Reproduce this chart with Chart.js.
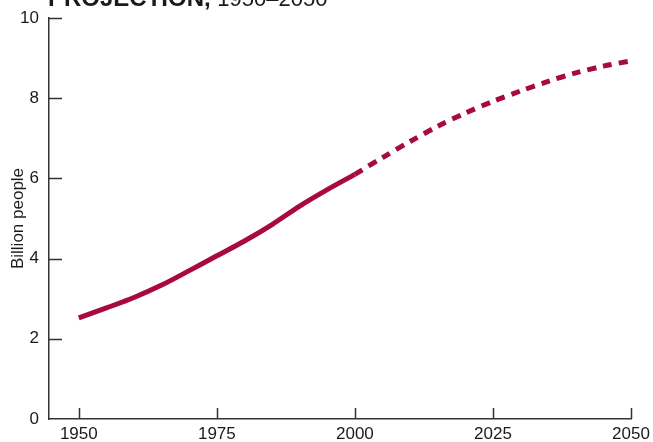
<!DOCTYPE html>
<html>
<head>
<meta charset="utf-8">
<script src="https://cdn.jsdelivr.net/npm/chart.js@4"></script>
<style>
  html, body { margin: 0; padding: 0; background: #fff; }
  #wrap { width: 653px; height: 442px; }
</style>
</head>
<body>
<div id="wrap"><canvas id="popChart" width="653" height="442"></canvas></div>
<script>
const histYears = [1950, 1955, 1960, 1965, 1970, 1975, 1980, 1985, 1990, 1995, 2000];
const histValues = [2.52, 2.77, 3.03, 3.34, 3.70, 4.07, 4.44, 4.85, 5.31, 5.72, 6.10];
const projYears = [2000, 2005, 2010, 2015, 2020, 2025, 2030, 2035, 2040, 2045, 2050];
const projValues = [6.10, 6.52, 6.92, 7.30, 7.63, 7.92, 8.18, 8.42, 8.63, 8.80, 8.93];
const xTicks = [1950, 1975, 2000, 2025, 2050];
const yTicks = [0, 2, 4, 6, 8, 10];

const lineColor = '#a80a3c';
const axisColor = '#333';
const textColor = '#1a1a1a';
const font = "'Liberation Sans', Arial, sans-serif";

const toPoints = (xs, ys) => xs.map((x, i) => ({ x: x, y: ys[i] }));

// ticks point inward, and the cut-off title at the top
const decor = {
  id: 'decor',
  afterDraw(chart) {
    const c = chart.ctx;
    const a = chart.chartArea;
    const sx = chart.scales.x, sy = chart.scales.y;
    c.save();
    c.strokeStyle = axisColor;
    c.lineWidth = 1.5;
    c.beginPath();
    yTicks.forEach(v => {
      if (v === 0) return;
      const p = Math.round(sy.getPixelForValue(v)) + 0.5;
      c.moveTo(a.left, p);
      c.lineTo(a.left + 13, p);
    });
    xTicks.forEach(v => {
      const p = Math.round(sx.getPixelForValue(v)) + 0.5;
      c.moveTo(p, a.bottom);
      c.lineTo(p, a.bottom - 11);
    });
    c.stroke();

    c.fillStyle = textColor;
    c.textBaseline = 'alphabetic';
    c.font = 'bold 24px ' + font;
    const t1 = 'PROJECTION, ';
    c.fillText(t1, 48, 6);
    const w = c.measureText(t1).width;
    c.font = '22px ' + font;
    c.fillText('1950–2050', 48 + w, 6);
    c.restore();
  }
};

new Chart(document.getElementById('popChart'), {
  type: 'line',
  data: {
    datasets: [
      {
        label: 'Historical',
        data: toPoints(histYears, histValues),
        borderColor: lineColor,
        borderWidth: 5,
        pointRadius: 0,
        tension: 0.3,
        fill: false
      },
      {
        label: 'Projection',
        data: toPoints(projYears, projValues),
        borderColor: lineColor,
        borderWidth: 5,
        borderDash: [9, 7],
        pointRadius: 0,
        tension: 0.3,
        fill: false
      }
    ]
  },
  options: {
    responsive: false,
    animation: false,
    layout: { padding: { top: 8, right: 0, left: 0, bottom: 0 } },
    plugins: {
      legend: { display: false },
      tooltip: { enabled: false }
    },
    scales: {
      x: {
        type: 'linear',
        min: 1944.6,
        max: 2050,
        afterBuildTicks: s => { s.ticks = xTicks.map(v => ({ value: v })); },
        afterFit: s => { s.height = 23; s.paddingRight = 22; },
        grid: { display: false, drawTicks: false },
        border: { display: true, color: axisColor, width: 1.5 },
        ticks: {
          padding: 5,
          color: textColor,
          font: { family: font, size: 17 },
          maxRotation: 0,
          autoSkip: false,
          callback: v => String(v)
        }
      },
      y: {
        min: 0,
        max: 10,
        afterBuildTicks: s => { s.ticks = yTicks.map(v => ({ value: v })); },
        afterFit: s => { s.width = 49; s.paddingTop = 18; },
        grid: { display: false, drawTicks: false },
        border: { display: true, color: axisColor, width: 1.5 },
        title: {
          display: true,
          text: 'Billion people',
          color: textColor,
          font: { family: font, size: 17 },
          padding: { top: 8, bottom: 0 }
        },
        ticks: {
          padding: 10,
          color: textColor,
          font: { family: font, size: 17 }
        }
      }
    }
  },
  plugins: [decor]
});
</script>
</body>
</html>
